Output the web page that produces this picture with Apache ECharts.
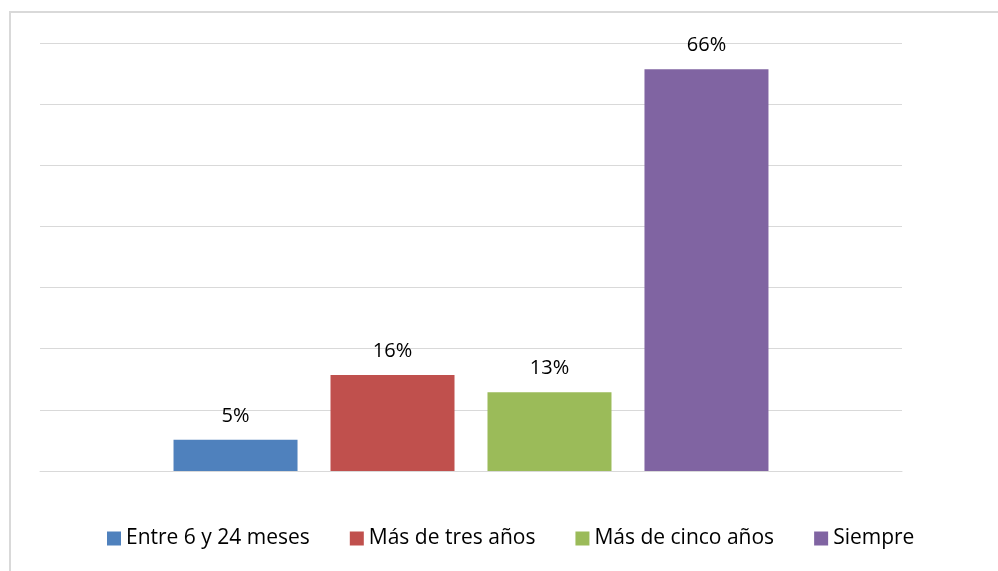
<!DOCTYPE html>
<html>
<head>
<meta charset="utf-8">
<script src="https://cdn.jsdelivr.net/npm/echarts@6/dist/echarts.min.js"></script>
<style>
  html, body { margin: 0; padding: 0; background: #fff; }
  .wrap { position: relative; width: 998px; height: 571px; overflow: hidden; }
  .frame { position: absolute; left: 9px; top: 11px; width: 1200px; height: 800px;
           border-left: 2px solid #d9d9d9; border-top: 2px solid #d9d9d9; }
  #barChart { position: absolute; left: 0; top: 0; width: 998px; height: 571px; }
</style>
</head>
<body>
<div class="wrap">
  <div class="frame"></div>
  <div id="barChart"></div>
</div>
<script>
// datos (porcentajes)
let seriesNames = ['Entre 6 y 24 meses', 'Más de tres años', 'Más de cinco años', 'Siempre']
let seriesValues = [5.1, 15.7, 12.9, 65.7]
let seriesColors = ['#4F81BD', '#C0504D', '#9BBB59', '#8064A2']
let categories = ['']

let fontFamily = '"Open Sans", "Liberation Sans", sans-serif'
let barChart = echarts.init(document.getElementById('barChart'))

let series = seriesNames.map((name, i) => ({
  name: name,
  type: 'bar',
  barWidth: 124,
  barGap: '26.6%',
  itemStyle: { color: seriesColors[i] },
  label: {
    show: true,
    position: 'top',
    distance: 14,
    formatter: p => Math.round(p.value) + '%',
    color: '#000',
    fontSize: 20,
    fontFamily: fontFamily
  },
  data: [seriesValues[i]]
}))

let option = {
  animation: false,
  grid: { left: 40, right: 96, top: 43, bottom: 100 },
  legend: {
    bottom: 17,
    left: 102,
    itemWidth: 14,
    itemHeight: 14,
    itemGap: 40,
    icon: 'rect',
    textStyle: { color: '#000', fontSize: 21, fontFamily: fontFamily },
    data: seriesNames
  },
  xAxis: {
    type: 'category',
    data: categories,
    axisTick: { show: false },
    axisLabel: { show: false },
    axisLine: { lineStyle: { color: '#d9d9d9', width: 1 } }
  },
  yAxis: {
    type: 'value',
    min: 0,
    max: 70,
    interval: 10,
    axisLabel: { show: false },
    axisLine: { show: false },
    axisTick: { show: false },
    splitLine: { lineStyle: { color: '#d9d9d9', width: 1 } }
  },
  series: series
}
barChart.setOption(option)
</script>
</body>
</html>
